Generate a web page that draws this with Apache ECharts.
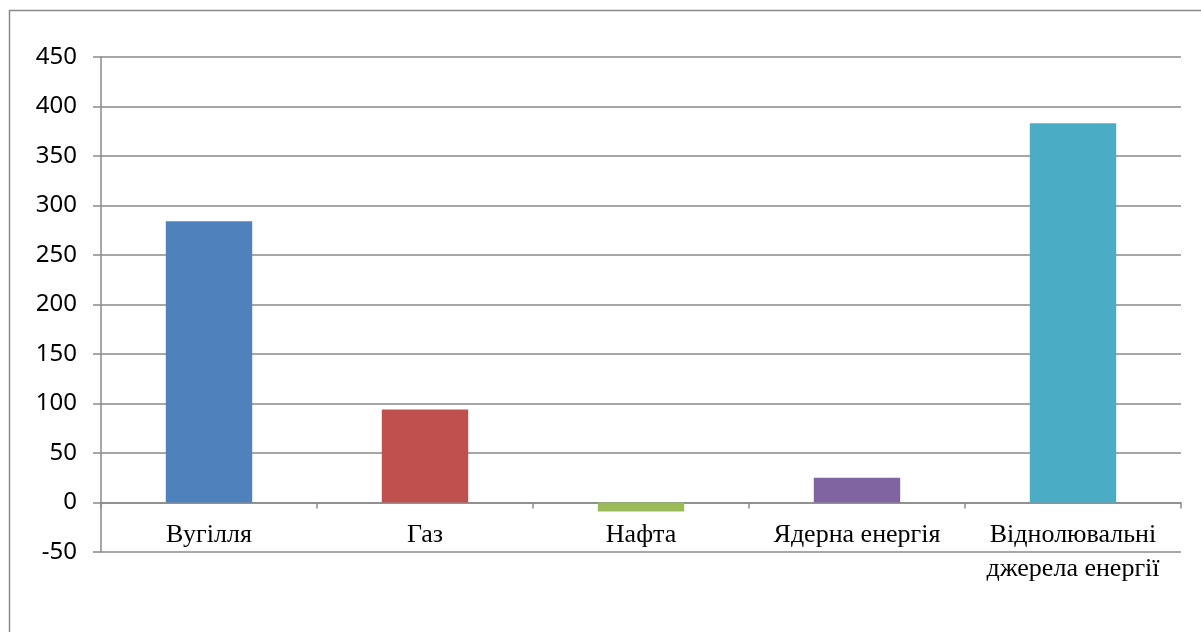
<!DOCTYPE html>
<html>
<head>
<meta charset="utf-8">
<script src="https://cdn.jsdelivr.net/npm/echarts@6/dist/echarts.min.js"></script>
<style>html,body{margin:0;padding:0;background:#fff}#c{width:1201px;height:632px}</style>
</head>
<body>
<div id="c"></div>
<script>
var categories = ['Вугілля', 'Газ', 'Нафта', 'Ядерна енергія', 'Віднолювальні\nджерела енергії'];
var values = [284, 94, -9, 25, 383];
var colors = ['#4F81BD', '#C0504D', '#9BBB59', '#8064A2', '#4BACC6'];
var yTicks = { min: -50, max: 450, interval: 50 };

var chart = echarts.init(document.getElementById('c'));
chart.setOption({
  animation: false,
  backgroundColor: '#fff',
  graphic: [{
    type: 'rect', left: 7, top: 8,
    shape: { width: 1400, height: 800 },
    style: { fill: 'none', stroke: '#8a8a8a', lineWidth: 1.5 }
  }],
  grid: { left: 101, right: 20, top: 57, bottom: 80 },
  xAxis: {
    type: 'category',
    data: categories,
    axisLine: { onZero: true, lineStyle: { color: '#8a8a8a', width: 1.5 } },
    axisTick: { show: true, alignWithLabel: false, length: 6, lineStyle: { color: '#8a8a8a', width: 1.5 } },
    axisLabel: { color: '#000', fontFamily: 'Liberation Serif', fontSize: 26, lineHeight: 34, margin: -34, interval: 0 }
  },
  yAxis: {
    type: 'value',
    min: yTicks.min, max: yTicks.max, interval: yTicks.interval,
    axisLine: { show: true, lineStyle: { color: '#8a8a8a', width: 1.5 } },
    axisTick: { show: true, length: 8, lineStyle: { color: '#8a8a8a', width: 1.5 } },
    axisLabel: { color: '#000', fontFamily: 'Noto Sans', fontSize: 24, margin: 24 },
    splitLine: { show: true, lineStyle: { color: '#8a8a8a', width: 1.5 } }
  },
  series: [{
    type: 'bar',
    barWidth: '40%',
    data: values.map(function (v, i) { return { value: v, itemStyle: { color: colors[i] } }; })
  }]
});
</script>
</body>
</html>
